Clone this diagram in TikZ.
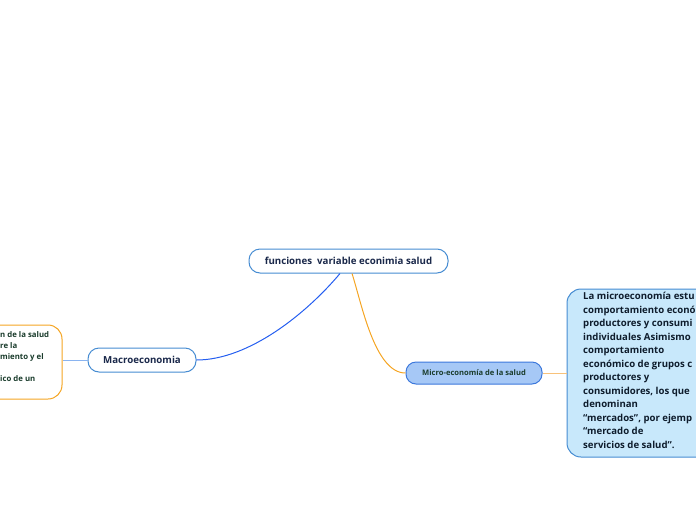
\documentclass[tikz,border=0pt]{standalone}
\usepackage{fontspec}
\setmainfont{Open Sans}
\usetikzlibrary{calc,positioning}
\definecolor{mapNavy}{RGB}{26,40,74}
\definecolor{mapGreen}{RGB}{26,60,44}
\definecolor{mapInk}{RGB}{14,28,44}
\definecolor{mapBlue}{RGB}{70,140,210}
\definecolor{mapBlueDark}{RGB}{60,120,220}
\definecolor{mapBlueLine}{RGB}{36,94,240}
\definecolor{mapBlueSoft}{RGB}{138,180,240}
\definecolor{mapOrange}{RGB}{245,165,35}
\definecolor{mapOrangeSoft}{RGB}{248,194,122}
\definecolor{mapFillMicro}{RGB}{166,200,246}
\definecolor{mapFillNote}{RGB}{200,232,251}

\tikzset{
  topic/.style={draw=mapBlue, fill=white, rounded corners=11pt, line width=1pt,
    text=mapNavy, font=\fontsize{9.7}{11}\selectfont\bfseries, inner sep=0pt},
  subtopic/.style={draw=mapBlueDark, fill=mapFillMicro, rounded corners=10pt, line width=1pt,
    text=mapGreen, font=\fontsize{7.6}{9}\selectfont\bfseries, inner sep=0pt},
  notebox/.style={rounded corners=14pt, line width=1pt, inner sep=0pt},
  link/.style={line width=1pt}
}

\begin{document}
\begin{tikzpicture}[x=1pt,y=-1pt]
\useasboundingbox (0,0) rectangle (696,520);
\clip (0,0) rectangle (696,520);

% main topics
\node[topic, minimum width=199pt, minimum height=24pt] (central) at (348.5,261) {funciones\ \ variable econimia salud};
\node[topic, minimum width=108pt, minimum height=24pt] (macro) at (142,360) {Macroeconomia};
\node[subtopic, minimum width=136pt, minimum height=22pt] (micro) at (474,373) {Micro-economía de la salud};

% notes
\node[notebox, draw=mapOrange, fill=white, minimum width=100pt, minimum height=74pt] (macronote) at (12,362) {};
\node[anchor=north west, align=left, inner sep=0pt, text=mapGreen,
  font=\fontsize{7.8}{11}\selectfont\bfseries] (macrotext) at (0,331)
  {n de la salud\\re la\\miento y el\\\mbox{}\\ico de un};
\node[notebox, draw=mapBlue, fill=mapFillNote, minimum width=170pt, minimum height=168pt] (micronote) at (652,373) {};
\node[anchor=north west, align=left, inner sep=0pt, text=mapInk,
  font=\fontsize{9.6}{13.5}\selectfont\bfseries] (microtext) at (583,292)
  {La microeconomía estu\\comportamiento econó\\productores y consumi\\individuales Asimismo\\comportamiento\\económico de grupos c\\productores y\\consumidores, los que\\denominan\\“mercados”, por ejemp\\“mercado de\\servicios de salud”.};

% connectors
\draw[link, mapBlueLine] ($(central.south)+(-8.5,0)$) to[out=-130,in=0,looseness=0.8] (macro.east);
\draw[link, mapOrange] ($(central.south)+(3.5,0)$) to[out=-72,in=180,looseness=0.7] (micro.west);
\draw[link, mapBlueSoft] (macro.west) -- (macronote.east |- macro.west);
\draw[link, mapOrangeSoft] (micro.east) -- (micronote.west |- micro.east);
\end{tikzpicture}
\end{document}
